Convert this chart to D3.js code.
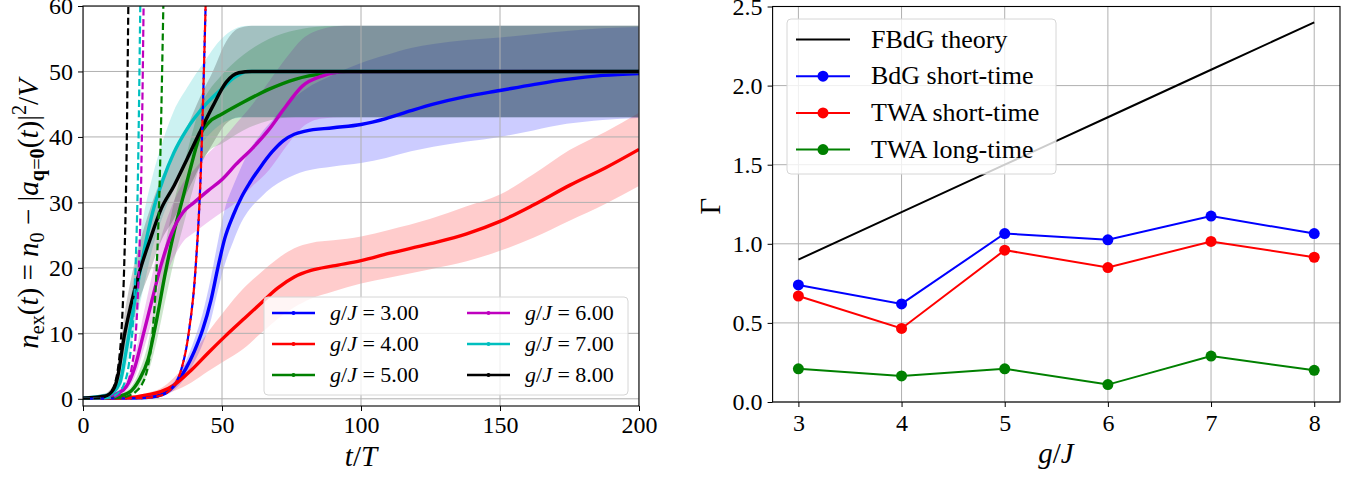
<!DOCTYPE html>
<html>
<head>
<meta charset="utf-8">
<script src="https://cdn.jsdelivr.net/npm/d3@7"></script>
<style>
  body { margin: 0; background: #fff; }
  svg { display: block; }
  svg text { font-family: "Liberation Serif", "Times New Roman", serif !important; white-space: pre; }
</style>
</head>
<body>
<script>
// left panel: TWA curves, rows are [t, mean, lower, upper]
var twa3 = [[0,0.1,0,0.3],[20,0.15,0.02,0.35],[25,0.3,0.1,0.55],[28,0.6,0.3,0.9],[31,1.3,0.8,1.8],[34,2.6,1.8,3.4],[37,4.6,3.4,5.8],[40,7.2,5.6,9],[43,10.5,8.3,13],[46,15,12,18.5],[48.5,20,16.5,24],[51,24.5,20.5,29],[54,28,24,32.5],[57,30.8,27,35.5],[60,33,29,38],[64,35.5,30.8,40.5],[68,37.7,32.3,42.5],[72,39.4,33.4,44.5],[76,40.4,34.2,46],[80,40.9,34.8,47.3],[90,41.4,35.5,49.5],[100,41.9,36,51.3],[109,42.8,36.8,52.5],[118,44,37.8,53.6],[126,45,38.5,54.2],[138,46.2,39.3,54.8],[150,47.1,40,55.2],[162,48,41,55.7],[174,48.8,42,56.2],[187,49.4,42.6,56.6],[200,49.7,42.9,56.8]];
var twa4 = [[0,0.1,0,0.3],[17,0.2,0.05,0.4],[23,0.6,0.3,0.9],[28,1.1,0.6,1.6],[32.7,2.1,1.2,3.2],[39,4.4,2.5,6.5],[45,7,4.2,10.2],[51,9.5,5.8,13.5],[57.6,12.1,7.6,16.8],[64,14.6,10,19.3],[70,16.9,12.2,21.4],[76,18.6,14,23],[82,19.6,15.3,23.8],[90,20.3,16.4,24.2],[100,21.1,17.6,24.8],[110,22.2,18.5,25.8],[125,23.7,19.8,27.5],[138,25.2,21,29.4],[150,27.1,22.6,31.2],[162,29.6,24.6,34.3],[175,32.6,27.2,38],[188,35.3,29.8,40.8],[200,38.1,32.5,43.7]];
var twa5 = [[0,0.1,0,0.3],[12.5,0.4,0.1,0.7],[17,1.1,0.6,1.7],[20.2,2.9,1.8,4.2],[23.4,6,4,8.5],[26.5,12.1,8.8,15.8],[29.6,19.2,15,23.5],[32.7,25.4,21,30],[35.8,30.5,26,35],[38.9,35.6,31,40],[42,40.2,35.5,44.5],[45.2,42.2,37.8,47],[50,43.5,39,49.5],[57.6,45.3,41,52.5],[67,47.3,42.5,55],[76.3,48.8,43,56.3],[87,49.7,43,56.9],[95,49.95,43,57],[200,50,43,57]];
var twa6 = [[0,0.1,0,0.3],[10.9,0.6,0.3,0.9],[15.6,1.9,1.2,2.8],[18.7,4.9,3.4,6.8],[21.8,10,7.5,13],[24.9,15.2,12,19],[28,20.3,16.5,24.5],[32,25.4,21,29.5],[36,28.5,24,33],[40,30,25.4,35],[45,31.8,27,37.5],[50,33.5,28.5,39.5],[55,35.8,30,42],[61,38.3,32.5,45],[67,41.2,35,48.5],[73,44.7,38.5,52],[79,47.8,41.5,55],[86,49.3,42.8,56.5],[94,49.95,43,57],[200,50,43,57]];
var twa7 = [[0,0.1,0,0.3],[9.3,0.6,0.3,0.9],[13.2,2.4,1.4,3.5],[15.6,7.5,5,10.5],[18.7,15.2,11,20],[21.8,22.3,17,28],[25,28.4,23,34],[28.8,33.5,28,39.5],[32.7,37.6,32,44],[37.4,41.2,36,47.5],[43.6,44.7,39.5,51.5],[49.8,47.3,42,55],[54.5,49.1,42.8,56.5],[59.2,50,43,57],[200,50,43,57]];
var twa8 = [[0,0.1,0,0.3],[7.8,0.4,0.1,0.8],[10.9,1.4,0.8,2.2],[12.5,3.4,2.2,4.8],[14.8,9.5,7,12.5],[17.1,14.1,10.5,18],[20.2,19.2,15,23.5],[24.1,24.3,19.5,29],[28,28.9,24,33.5],[32.7,32.5,27.5,37.5],[37.4,36.6,31.5,41.5],[42,40.7,35.5,46],[46.7,44.7,39,50],[51.4,48.3,42,54.5],[56,49.8,43,56.6],[60.7,50,43,57],[200,50,43,57]];

// left panel: BdG short-time growth (dashed), rows are [t, n]
var bdg3 = [[0,0.02],[20,0.1],[25,0.25],[28,0.5],[30.5,1],[32.6,2],[35,4],[38,10],[40.5,20],[42.4,35],[44.1,60]];
var bdg4 = [[0,0.02],[20,0.1],[25,0.25],[28,0.5],[30.5,1],[32.6,2],[35,4],[38,10],[40.5,20],[42.4,35],[44.1,60]];
var bdg5 = [[0,0.02],[12,0.1],[16,0.4],[19,1.1],[21.2,2.2],[23,4.3],[25,10],[26.5,20],[27.7,35],[28.9,60]];
var bdg6 = [[0,0.02],[9,0.08],[12,0.4],[14.5,1.2],[16.2,2.5],[17.6,5],[19,10],[20.1,20],[21,35],[21.8,60]];
var bdg7 = [[0,0.02],[8,0.08],[11,0.4],[13.3,1.2],[15,2.5],[16.4,5],[17.7,10],[18.9,20],[19.8,35],[20.6,60]];
var bdg8 = [[0,0.02],[6,0.08],[8.5,0.4],[10.3,1.2],[11.6,2.5],[12.7,5],[13.8,10],[14.8,20],[15.6,35],[16.3,60]];

var gLabels = ["3.00", "4.00", "5.00", "6.00", "7.00", "8.00"];
var colors = ["#0000ff", "#ff0000", "#008000", "#bf00bf", "#00bfbf", "#000000"];
var twaSets = [twa3, twa4, twa5, twa6, twa7, twa8];
var bdgSets = [bdg3, bdg4, bdg5, bdg6, bdg7, bdg8];

var tTicks = [0, 50, 100, 150, 200];
var nTicks = [0, 10, 20, 30, 40, 50, 60];

// right panel
var gJ = [3, 4, 5, 6, 7, 8];
var fbdgTheory = [0.9, 1.2, 1.5, 1.8, 2.1, 2.4];
var bdgShort = [0.74, 0.62, 1.065, 1.025, 1.175, 1.065];
var twaShort = [0.67, 0.465, 0.96, 0.85, 1.015, 0.915];
var twaLong = [0.21, 0.165, 0.21, 0.11, 0.29, 0.2];
var rateNames = ["FBdG theory", "BdG short-time", "TWA short-time", "TWA long-time"];
var rateColors = ["#000000", "#0000ff", "#ff0000", "#008000"];
var gammaTicks = [0, 0.5, 1.0, 1.5, 2.0, 2.5];

var W = 1362, H = 479;
var svg = d3.select("body").append("svg").attr("width", W).attr("height", H);

var xL = d3.scaleLinear().domain([0, 200]).range([83, 639]);
var yL = d3.scaleLinear().domain([-1.1, 60]).range([406, 6]);
var xR = d3.scaleLinear().domain([2.75, 8.25]).range([772.6, 1340]);
var yR = d3.scaleLinear().domain([0, 2.5]).range([402, 6.5]);

// writes a small piece of math into a text element
function addMath(txt, parts, size) {
  var shift = 0;
  parts.forEach(function (p) {
    var target = p.sub ? size * 0.22 : (p.sup ? -size * 0.4 : 0);
    txt.append("tspan")
      .attr("dy", target - shift)
      .attr("font-size", (p.sub || p.sup) ? size * 0.7 : size)
      .attr("font-style", p.i ? "italic" : "normal")
      .attr("font-weight", p.b ? "bold" : "normal")
      .text(p.t);
    shift = target;
  });
}

function drawGrid(g, xs, ys, xt, yt) {
  var x0 = xs.range()[0], x1 = xs.range()[1];
  var y0 = ys.range()[0], y1 = ys.range()[1];
  var grid = g.append("g");
  xt.forEach(function (v) {
    grid.append("line").attr("x1", xs(v)).attr("x2", xs(v)).attr("y1", y0).attr("y2", y1);
  });
  yt.forEach(function (v) {
    grid.append("line").attr("x1", x0).attr("x2", x1).attr("y1", ys(v)).attr("y2", ys(v));
  });
  grid.selectAll("line").attr("stroke", "#b0b0b0").attr("stroke-width", 1);
  return grid;
}

function drawAxes(g, xs, ys, xt, yt, yfmt, xfmt, xpad) {
  var y0 = ys.range()[0];
  var x0 = xs.range()[0];
  var ax = g.append("g").attr("transform", "translate(0," + y0 + ")")
    .call(d3.axisBottom(xs).tickValues(xt).tickSize(5).tickPadding(xpad).tickFormat(xfmt));
  var ay = g.append("g").attr("transform", "translate(" + x0 + ",0)")
    .call(d3.axisLeft(ys).tickValues(yt).tickSize(5).tickPadding(5).tickFormat(yfmt));
  [ax, ay].forEach(function (a) {
    a.attr("font-family", null).attr("font-size", null);
    a.selectAll(".domain").remove();
    a.selectAll("line").attr("stroke", "#000").attr("stroke-width", 1);
    a.selectAll("text").attr("font-size", 24).attr("fill", "#000");
  });
  g.append("rect")
    .attr("x", xs.range()[0]).attr("y", ys.range()[1])
    .attr("width", xs.range()[1] - xs.range()[0])
    .attr("height", ys.range()[0] - ys.range()[1])
    .attr("fill", "none").attr("stroke", "#000").attr("stroke-width", 1.1);
}

// ---------- left panel ----------
var left = svg.append("g");
left.append("clipPath").attr("id", "clipL").append("rect")
  .attr("x", 83).attr("y", 6).attr("width", 556).attr("height", 400);
var plotL = left.append("g").attr("clip-path", "url(#clipL)");

var band = d3.area()
  .x(function (d) { return xL(d[0]); })
  .y0(function (d) { return yL(d[2]); })
  .y1(function (d) { return yL(d[3]); })
  .curve(d3.curveMonotoneX);
var mean = d3.line()
  .x(function (d) { return xL(d[0]); })
  .y(function (d) { return yL(d[1]); })
  .curve(d3.curveMonotoneX);

twaSets.forEach(function (s, i) {
  plotL.append("path").attr("d", band(s)).attr("fill", colors[i]).attr("fill-opacity", 0.2);
});

drawGrid(plotL, xL, yL, tTicks, nTicks);

twaSets.forEach(function (s, i) {
  plotL.append("path").attr("d", mean(s)).attr("fill", "none")
    .attr("stroke", colors[i]).attr("stroke-width", 3.4);
});
bdgSets.forEach(function (s, i) {
  plotL.append("path").attr("d", mean(s)).attr("fill", "none")
    .attr("stroke", colors[i]).attr("stroke-width", 2.2)
    .attr("stroke-dasharray", "7,3.5")
    .attr("stroke-dashoffset", i === 0 ? 5 : 0);
});

drawAxes(left, xL, yL, tTicks, nTicks, d3.format("d"), d3.format("d"), 5);

// legend (left)
var legL = left.append("g");
legL.append("rect").attr("x", 264).attr("y", 297).attr("width", 364).attr("height", 98)
  .attr("rx", 4).attr("fill", "#fff").attr("fill-opacity", 0.8)
  .attr("stroke", "#d6d6d6").attr("stroke-width", 1);
gLabels.forEach(function (lab, i) {
  var col = i < 3 ? 0 : 1, row = i % 3;
  var hx = col === 0 ? 272 : 467;
  var cy = 313 + row * 31;
  legL.append("line").attr("x1", hx).attr("x2", hx + 43).attr("y1", cy).attr("y2", cy)
    .attr("stroke", colors[i]).attr("stroke-width", 2.5);
  legL.append("circle").attr("cx", hx + 21.5).attr("cy", cy).attr("r", 2).attr("fill", colors[i]);
  var t = legL.append("text").attr("x", hx + 58).attr("y", cy + 7).attr("fill", "#000");
  addMath(t, [{t: "g", i: 1}, {t: "/"}, {t: "J", i: 1}, {t: " = " + lab}], 22);
});

// axis labels (left)
var xlabL = left.append("text").attr("x", 361).attr("y", 466).attr("text-anchor", "middle");
addMath(xlabL, [{t: "t", i: 1}, {t: "/"}, {t: "T", i: 1}], 29);
var ylabL = left.append("text").attr("transform", "translate(38,214) rotate(-90)")
  .attr("text-anchor", "middle");
addMath(ylabL, [
  {t: "n", i: 1}, {t: "ex", sub: 1}, {t: "("}, {t: "t", i: 1}, {t: ") = "},
  {t: "n", i: 1}, {t: "0", sub: 1}, {t: " − |"}, {t: "a", i: 1},
  {t: "q", sub: 1, b: 1}, {t: "=", sub: 1}, {t: "0", sub: 1, b: 1},
  {t: "("}, {t: "t", i: 1}, {t: ")|"}, {t: "2", sup: 1}, {t: "/"}, {t: "V", i: 1}
], 29);

// ---------- right panel ----------
var right = svg.append("g");
drawGrid(right, xR, yR, gJ, gammaTicks);

var rateLine = d3.line()
  .x(function (d) { return xR(d[0]); })
  .y(function (d) { return yR(d[1]); });
var rateSets = [fbdgTheory, bdgShort, twaShort, twaLong];
rateSets.forEach(function (vals, k) {
  var pts = gJ.map(function (g, j) { return [g, vals[j]]; });
  right.append("path").attr("d", rateLine(pts)).attr("fill", "none")
    .attr("stroke", rateColors[k]).attr("stroke-width", 2);
  if (k > 0) {
    right.selectAll(null).data(pts).enter().append("circle")
      .attr("cx", function (d) { return xR(d[0]); })
      .attr("cy", function (d) { return yR(d[1]); })
      .attr("r", 5.5).attr("fill", rateColors[k]);
  }
});

drawAxes(right, xR, yR, gJ, gammaTicks, d3.format(".1f"), d3.format("d"), 7);

// legend (right)
var legR = right.append("g");
legR.append("rect").attr("x", 787).attr("y", 19).attr("width", 269).attr("height", 155)
  .attr("rx", 4).attr("fill", "#fff").attr("fill-opacity", 0.8)
  .attr("stroke", "#d6d6d6").attr("stroke-width", 1);
rateNames.forEach(function (nm, k) {
  var cy = 39.5 + k * 36.7;
  legR.append("line").attr("x1", 796).attr("x2", 850).attr("y1", cy).attr("y2", cy)
    .attr("stroke", rateColors[k]).attr("stroke-width", 2);
  if (k > 0) legR.append("circle").attr("cx", 823).attr("cy", cy).attr("r", 5.5).attr("fill", rateColors[k]);
  legR.append("text").attr("x", 871).attr("y", cy + 8).attr("font-size", 26).text(nm);
});

var xlabR = right.append("text").attr("x", 1056).attr("y", 463).attr("text-anchor", "middle");
addMath(xlabR, [{t: "g", i: 1}, {t: "/"}, {t: "J", i: 1}], 29);
right.append("text").attr("transform", "translate(720,206) rotate(-90)")
  .attr("text-anchor", "middle").attr("font-size", 29).text("Γ");
</script>
</body>
</html>
